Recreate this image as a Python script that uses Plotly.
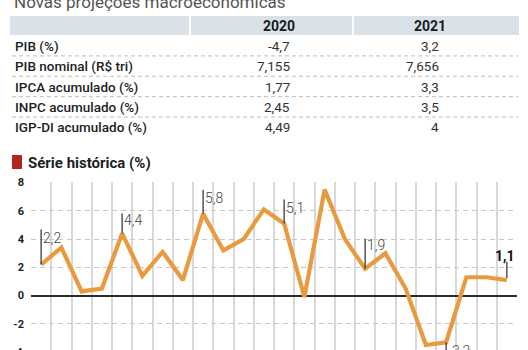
import plotly.graph_objects as go

# ---------------- data ----------------
periods = list(range(1, 25))
values = [2.2, 3.4, 0.3, 0.5, 4.4, 1.4, 3.1, 1.1, 5.8, 3.2, 4.0, 6.1,
          5.1, -0.1, 7.5, 4.0, 1.9, 3.0, 0.5, -3.5, -3.3, 1.3, 1.3, 1.1]
y_ticks = [8, 6, 4, 2, 0, -2, -4]

table_title = "Novas projeções macroeconômicas"
table_years = ["2020", "2021"]
table_rows = ["PIB (%)", "PIB nominal (R$ tri)", "IPCA acumulado (%)",
              "INPC acumulado (%)", "IGP-DI acumulado (%)"]
values_2020 = ["-4,7", "7,155", "1,77", "2,45", "4,49"]
values_2021 = ["3,2", "7,656", "3,3", "3,5", "4"]
chart_title = "Série histórica (%)"

labeled_points = [1, 5, 9, 13, 17, 21, 24]  # periods with value labels

# ---------------- layout geometry (pixels) ----------------
W, H = 528, 350
ML, MR, MT, MB = 31, 11, 182, 0
PW, PH = W - ML - MR, H - MT - MB
Y_RANGE = [-3.85, 8.04]
FONT = "Roboto"
ORANGE = "#E99A3F"


def px_x(px):
    return (px - ML) / PW


def px_y(py):
    return (H - MB - py) / PH


fig = go.Figure()
fig.add_trace(go.Scatter(
    x=periods, y=values, mode="lines",
    line=dict(color=ORANGE, width=4.2), hoverinfo="skip", showlegend=False,
))

shapes = []
annotations = []

# label markers (line length px, text y shift px, text placement)
label_style = {
    1: (35, 27, "right"), 5: (20, 13, "right"), 9: (24, 16, "right"),
    13: (24, 16, "right"), 17: (30, 24, "right"), 21: (-12, -9, "below"),
    24: (18, 24, "top"),
}
for p in labeled_points:
    v = values[periods.index(p)]
    ln, ys, mode = label_style[p]
    txt = f"{v:.1f}".replace(".", ",")
    shapes.append(dict(type="line", xref="x", yref="y", ysizemode="pixel",
                       yanchor=v, x0=p, x1=p, y0=0 if mode != "top" else 2,
                       y1=ln, line=dict(color="#3a3a3a", width=1.3)))
    if mode == "top":
        annotations.append(dict(x=p, y=v, xref="x", yref="y", text=f"<b>{txt}</b>",
                                showarrow=False, xanchor="center", yanchor="middle",
                                xshift=-2, yshift=ys,
                                font=dict(family=FONT, size=14, color="#111")))
    else:
        annotations.append(dict(x=p, y=v, xref="x", yref="y", text=txt,
                                showarrow=False, xanchor="left", yanchor="middle",
                                xshift=0, yshift=ys,
                                font=dict(family=FONT, size=14, color="#444", weight=300)))

# ---- table ----
annotations.append(dict(x=px_x(12), y=px_y(1.5), xref="paper", yref="paper",
                        text=table_title, showarrow=False, xanchor="left", yanchor="middle",
                        font=dict(family=FONT, size=17, color="#555")))
for x0, x1 in [(10, 189), (191, 352), (354, 519)]:
    shapes.append(dict(type="rect", xref="paper", yref="paper",
                       x0=px_x(x0), x1=px_x(x1), y0=px_y(35), y1=px_y(16),
                       fillcolor="#D9E1E9", line=dict(width=0), layer="above"))
for yr, cx in zip(table_years, [279, 430]):
    annotations.append(dict(x=px_x(cx), y=px_y(25.5), xref="paper", yref="paper",
                            text=f"<b>{yr}</b>", showarrow=False, xanchor="center",
                            yanchor="middle", font=dict(family=FONT, size=14, color="#1a1a1a")))
row_y0, row_dy = 45.7, 20.4
for i, (lab, a, b) in enumerate(zip(table_rows, values_2020, values_2021)):
    yc = row_y0 + i * row_dy
    annotations.append(dict(x=px_x(13), y=px_y(yc), xref="paper", yref="paper",
                            text=lab, showarrow=False, xanchor="left", yanchor="middle",
                            font=dict(family=FONT, size=13.5, color="#1e1e1e", weight=500)))
    annotations.append(dict(x=px_x(292), y=px_y(yc), xref="paper", yref="paper",
                            text=a, showarrow=False, xanchor="right", yanchor="middle",
                            font=dict(family=FONT, size=13.5, color="#333")))
    annotations.append(dict(x=px_x(441), y=px_y(yc), xref="paper", yref="paper",
                            text=b, showarrow=False, xanchor="right", yanchor="middle",
                            font=dict(family=FONT, size=13.5, color="#333")))
    if i < len(table_rows) - 1:
        ys = yc + row_dy / 2
        shapes.append(dict(type="line", xref="paper", yref="paper",
                           x0=px_x(12), x1=px_x(518), y0=px_y(ys), y1=px_y(ys),
                           line=dict(color="#bdbdbd", width=1, dash="4px,3px")))

# ---- chart title ----
shapes.append(dict(type="rect", xref="paper", yref="paper",
                   x0=px_x(12), x1=px_x(22), y0=px_y(169), y1=px_y(155),
                   fillcolor="#B3261E", line=dict(width=0)))
annotations.append(dict(x=px_x(26), y=px_y(162.5), xref="paper", yref="paper",
                        text=f"<b>{chart_title}</b>", showarrow=False, xanchor="left",
                        yanchor="middle", font=dict(family=FONT, size=15, color="#1e1e1e")))

# partially visible -4 tick label
annotations.append(dict(x=0, y=(y_ticks[-1] - Y_RANGE[0]) / (Y_RANGE[1] - Y_RANGE[0]),
                        xref="paper", yref="paper", text="<b>-4</b>", showarrow=False,
                        xanchor="right", yanchor="middle", xshift=-6,
                        font=dict(family=FONT, size=11, color="#222")))

fig.update_layout(
    width=W, height=H, margin=dict(l=ML, r=MR, t=MT, b=MB, pad=0),
    paper_bgcolor="white", plot_bgcolor="white",
    shapes=shapes, annotations=annotations, showlegend=False,
    xaxis=dict(range=[periods[0] - 0.5, periods[-1] + 0.5],
               tickvals=[p - 0.5 for p in periods] + [periods[-1] + 0.5],
               showticklabels=False, ticks="", showgrid=True,
               gridcolor="#d8d8d8", gridwidth=1.5, zeroline=False, showline=False),
    yaxis=dict(range=Y_RANGE, tickvals=y_ticks, ticktext=[f"<b>{t}</b>" for t in y_ticks],
               showgrid=True, gridcolor="#c8c8c8", gridwidth=1.2, griddash="5px,4px",
               zeroline=True, zerolinecolor="#2b2b2b", zerolinewidth=2,
               tickfont=dict(family=FONT, size=11, color="#222"), ticks="",
               ticklabelstandoff=6, showline=False),
)

fig.write_html("out.html")
